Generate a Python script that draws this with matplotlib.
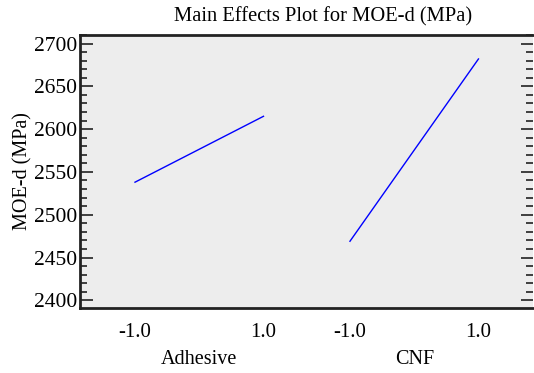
import matplotlib
matplotlib.use("Agg")
from matplotlib import pyplot as plt
from matplotlib.ticker import MultipleLocator

factors = ["Adhesive", "CNF"]
levels = [-1.0, 1.0]
adhesive_moe = [2538, 2615]
cnf_moe = [2469, 2682]

plt.rcParams["font.family"] = ["Liberation Serif", "DejaVu Serif"]

fig = plt.figure(figsize=(5.34, 3.73), dpi=100)
ax = fig.add_axes([80 / 534, 1 - 308 / 373, 453 / 534, 273 / 373])
ax.set_facecolor("#ededed")

# each factor gets its own slot along x; the low/high levels sit inside it
slot_offsets = [0.0, 3.346]
series = [adhesive_moe, cnf_moe]
xticks, xlabels = [], []
for off, vals in zip(slot_offsets, series):
    xs = [off + (lv + 1.0) for lv in levels]
    ax.plot(xs, vals, color="#0000ff", lw=1.0)
    xticks += xs
    xlabels += ["%.1f" % lv for lv in levels]

ax.set_xlim(-0.856, 6.195)
ax.set_ylim(2391, 2710)
ax.set_xticks(xticks)
ax.set_xticklabels(xlabels, fontsize=15)
ax.tick_params(axis="x", length=0, pad=11)

for off, name in zip(slot_offsets, factors):
    ax.text(off + 1.0, -0.19, name, transform=ax.get_xaxis_transform(),
            ha="center", va="center", fontsize=14.5)

ax.yaxis.set_major_locator(MultipleLocator(50))
ax.yaxis.set_minor_locator(MultipleLocator(10))
ax.tick_params(axis="y", which="major", direction="in", length=9, width=1.2,
               labelsize=15.5, right=True, pad=2, color="#222222")
ax.tick_params(axis="y", which="minor", direction="in", length=5, width=1.2,
               right=True, color="#222222")
ax.set_ylabel("MOE-d (MPa)", fontsize=14.5, labelpad=1)

for side in ["top", "bottom", "left"]:
    ax.spines[side].set_linewidth(2)
    ax.spines[side].set_color("#222222")
ax.spines["right"].set_visible(False)

fig.text(323 / 534, 1 - 17 / 373, "Main Effects Plot for MOE-d (MPa)",
         ha="center", va="center", fontsize=14.8)

fig.savefig("out.png", dpi=100)
